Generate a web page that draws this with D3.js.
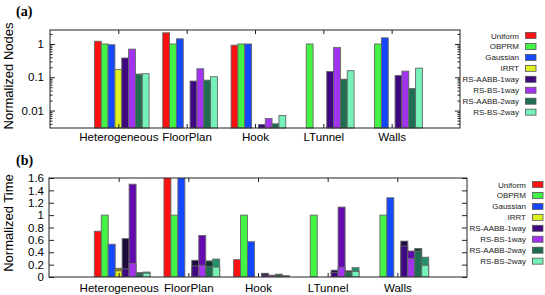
<!DOCTYPE html>
<html>
<head>
<meta charset="utf-8">
<script src="https://cdn.jsdelivr.net/npm/d3@7"></script>
<style>
  body { margin: 0; background: #fff; }
  svg { display: block; font-family: "Liberation Sans", Arial, sans-serif; }
</style>
</head>
<body>
<div id="chart"></div>
<script>
const categories = ['Heterogeneous', 'FloorPlan', 'Hook', 'LTunnel', 'Walls'];
const methods = ['Uniform', 'OBPRM', 'Gaussian', 'IRRT', 'RS-AABB-1way', 'RS-BS-1way', 'RS-AABB-2way', 'RS-BS-2way'];
const colors = ['#ff1010', '#44f444', '#1448ff', '#ddf020', '#3e0880', '#a234f0', '#1f6e52', '#74f2b8'];
const darkColors = ['#ff1010', '#44f444', '#1448ff', '#8a8a10', '#1c0a3c', '#6408b0', '#0f3a2a', '#21926c'];

// (a) normalized nodes, one array per method (null = no bar)
const nodesUniform = [1.21, 2.17, 0.92, null, null];
const nodesOBPRM = [1, 1, 1, 1, 1];
const nodesGaussian = [0.95, 1.43, 1.0, null, 1.53];
const nodesIRRT = [0.17, null, null, null, null];
const nodesAABB1 = [0.38, 0.077, 0.0038, 0.149, 0.113];
const nodesBS1 = [0.70, 0.18, 0.0058, 0.79, 0.153];
const nodesAABB2 = [0.125, 0.082, 0.004, 0.088, 0.046];
const nodesBS2 = [0.128, 0.104, 0.0071, 0.158, 0.188];
const nodes = [nodesUniform, nodesOBPRM, nodesGaussian, nodesIRRT, nodesAABB1, nodesBS1, nodesAABB2, nodesBS2];

// (b) normalized time: total and lower part of each bar
const timeUniform = [0.74, 2.1, 0.28, null, null];
const timeOBPRM = [1, 1, 1, 1, 1];
const timeGaussian = [0.53, 1.9, 0.57, null, 1.28];
const timeIRRT = [0.14, null, null, null, null];
const timeAABB1 = [0.62, 0.27, 0.06, 0.11, 0.58];
const timeBS1 = [1.50, 0.67, 0.03, 1.13, 0.42];
const timeAABB2 = [0.07, 0.26, 0.045, 0.10, 0.46];
const timeBS2 = [0.08, 0.29, 0.02, 0.15, 0.32];
const baseIRRT = [0.10, null, null, null, null];
const baseAABB1 = [0.13, 0.18, 0.03, 0.075, 0.50];
const baseBS1 = [0.22, 0.19, 0.02, 0.16, 0.30];
const baseAABB2 = [0.05, 0.17, 0.03, 0.08, 0.42];
const baseBS2 = [0.06, 0.16, 0.015, 0.09, 0.19];
const times = [timeUniform, timeOBPRM, timeGaussian, timeIRRT, timeAABB1, timeBS1, timeAABB2, timeBS2];
const bases = [timeUniform, timeOBPRM, timeGaussian, baseIRRT, baseAABB1, baseBS1, baseAABB2, baseBS2];

const timeTicks = [0, 0.2, 0.4, 0.6, 0.8, 1, 1.2, 1.4, 1.6];
const nodeTicks = [0.01, 0.1, 1];

const svg = d3.select('#chart').append('svg').attr('width', 545).attr('height', 295);

const barW = 0.1;
const barOffset = (j) => (j - 4) * barW + 0.05;

function frame(g, x, y, box) {
  g.append('rect')
    .attr('x', box.left).attr('y', box.top)
    .attr('width', box.right - box.left).attr('height', box.bottom - box.top)
    .attr('fill', 'none').attr('stroke', '#222').attr('stroke-width', 1);

  const top = g.append('g').attr('transform', 'translate(0,' + box.top + ')')
    .call(d3.axisTop(x).tickValues(d3.range(categories.length)).tickSize(-4).tickFormat(''));
  const bottom = g.append('g').attr('transform', 'translate(0,' + box.bottom + ')')
    .call(d3.axisBottom(x).tickValues(d3.range(categories.length)).tickSize(-4)
      .tickPadding(box.labelPad).tickFormat((d) => categories[d]));
  bottom.selectAll('text').attr('font-size', 11.6).attr('fill', '#000');
  [top, bottom].forEach((a) => {
    a.select('.domain').remove();
    a.selectAll('line').attr('stroke', '#222');
  });
}

function legend(g, lx, ly) {
  methods.forEach((m, j) => {
    const row = g.append('g').attr('transform', 'translate(' + lx + ',' + (ly + j * 10.95) + ')');
    row.append('text').attr('x', 0).attr('y', 3).attr('text-anchor', 'end')
      .attr('font-size', 8).attr('fill', '#222').text(m);
    row.append('rect').attr('x', 6.5).attr('y', -3).attr('width', 10.5).attr('height', 6)
      .attr('fill', colors[j]).attr('stroke', '#555').attr('stroke-width', 0.8);
  });
}

// ---------- (a) ----------
const boxA = { left: 50, right: 460, top: 30, bottom: 128, labelPad: 5 };
const xA = d3.scaleLinear().domain([-1, 5]).range([boxA.left, boxA.right]);
const yA = d3.scaleLog().domain([0.003, 2.63]).range([boxA.bottom, boxA.top]);
const gA = svg.append('g');

nodes.forEach((vals, j) => {
  gA.selectAll(null)
    .data(vals.map((v, i) => ({ v, i })).filter((d) => d.v != null))
    .enter().append('rect')
    .attr('x', (d) => xA(d.i + barOffset(j)))
    .attr('width', xA(barW) - xA(0))
    .attr('y', (d) => yA(d.v))
    .attr('height', (d) => yA.range()[0] - yA(d.v))
    .attr('fill', colors[j])
    .attr('stroke', '#666').attr('stroke-width', 0.9);
});

frame(gA, xA, yA, boxA);

const minorA = [];
[0.001, 0.01, 0.1, 1].forEach((dec) => d3.range(2, 10).forEach((k) => {
  const v = dec * k;
  if (v > 0.003 && v < 2.63) minorA.push(v);
}));
const leftA = gA.append('g').attr('transform', 'translate(' + boxA.left + ',0)')
  .call(d3.axisLeft(yA).tickValues(nodeTicks).tickSize(-5).tickPadding(6).tickFormat(d3.format('~g')));
leftA.selectAll('text').attr('font-size', 11.5).attr('fill', '#000');
gA.append('g').attr('transform', 'translate(' + boxA.left + ',0)')
  .call(d3.axisLeft(yA).tickValues(minorA).tickSize(-2.5).tickFormat(''));
gA.append('g').attr('transform', 'translate(' + boxA.right + ',0)')
  .call(d3.axisRight(yA).tickValues(nodeTicks).tickSize(-5).tickFormat(''));
gA.append('g').attr('transform', 'translate(' + boxA.right + ',0)')
  .call(d3.axisRight(yA).tickValues(minorA).tickSize(-2.5).tickFormat(''));
gA.selectAll('.domain').remove();
gA.selectAll('.tick line').attr('stroke', '#222');

gA.append('text').attr('transform', 'translate(13,76) rotate(-90)')
  .attr('text-anchor', 'middle').attr('font-size', 13).text('Normalized Nodes');
gA.append('text').attr('x', 16).attr('y', 16)
  .attr('font-family', '"Liberation Serif", "Times New Roman", serif')
  .attr('font-weight', 'bold').attr('font-size', 14).text('(a)');
legend(gA, 519, 35.5);

// ---------- (b) ----------
const boxB = { left: 49, right: 467, top: 178, bottom: 277, labelPad: 7 };
const xB = d3.scaleLinear().domain([-1, 5]).range([boxB.left, boxB.right]);
const yB = d3.scaleLinear().domain([0, 1.6]).range([boxB.bottom, boxB.top]);
const gB = svg.append('g');

svg.append('clipPath').attr('id', 'clipB').append('rect')
  .attr('x', boxB.left).attr('y', boxB.top)
  .attr('width', boxB.right - boxB.left).attr('height', boxB.bottom - boxB.top);
const barsB = gB.append('g').attr('clip-path', 'url(#clipB)');

times.forEach((vals, j) => {
  const rows = vals.map((v, i) => ({ v, b: bases[j][i], i })).filter((d) => d.v != null);
  // full bar in the darker shade, lower part in the legend colour
  barsB.selectAll(null).data(rows).enter().append('rect')
    .attr('x', (d) => xB(d.i + barOffset(j)))
    .attr('width', xB(barW) - xB(0))
    .attr('y', (d) => yB(d.v))
    .attr('height', (d) => yB(0) - yB(d.v))
    .attr('fill', darkColors[j])
    .attr('stroke', '#666').attr('stroke-width', 0.9);
  barsB.selectAll(null).data(rows.filter((d) => d.b < d.v)).enter().append('rect')
    .attr('x', (d) => xB(d.i + barOffset(j)))
    .attr('width', xB(barW) - xB(0))
    .attr('y', (d) => yB(d.b))
    .attr('height', (d) => yB(0) - yB(d.b))
    .attr('fill', colors[j])
    .attr('stroke', '#666').attr('stroke-width', 0.9);
});

frame(gB, xB, yB, boxB);

const leftB = gB.append('g').attr('transform', 'translate(' + boxB.left + ',0)')
  .call(d3.axisLeft(yB).tickValues(timeTicks).tickSize(-5).tickPadding(5).tickFormat(d3.format('~g')));
leftB.selectAll('text').attr('font-size', 11.5).attr('fill', '#000');
gB.append('g').attr('transform', 'translate(' + boxB.right + ',0)')
  .call(d3.axisRight(yB).tickValues(timeTicks).tickSize(-5).tickFormat(''));
gB.selectAll('.domain').remove();
gB.selectAll('.tick line').attr('stroke', '#222');

gB.append('text').attr('transform', 'translate(13,223) rotate(-90)')
  .attr('text-anchor', 'middle').attr('font-size', 13).text('Normalized Time');
gB.append('text').attr('x', 16).attr('y', 165)
  .attr('font-family', '"Liberation Serif", "Times New Roman", serif')
  .attr('font-weight', 'bold').attr('font-size', 14).text('(b)');
legend(gB, 526, 184.5);
</script>
</body>
</html>
